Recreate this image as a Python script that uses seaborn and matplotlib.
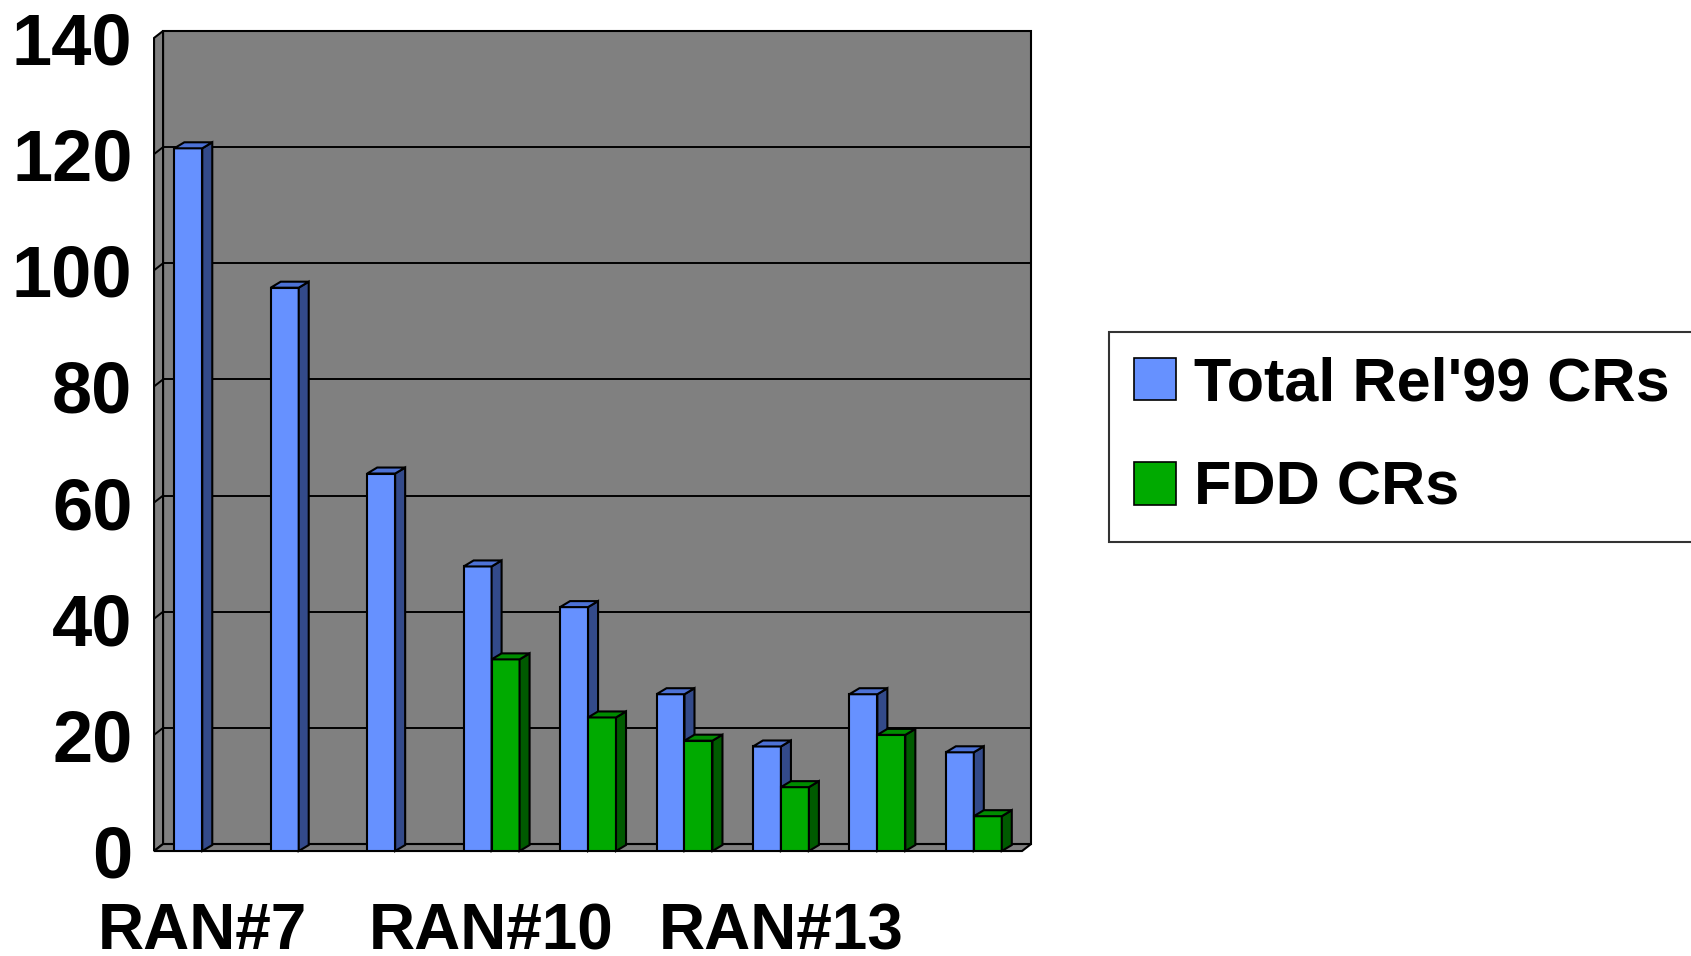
"""
Rel'99 change requests per RAN plenary meeting, drawn as a pseudo-3D
clustered column chart (Excel style) with seaborn + matplotlib patches.
"""
import matplotlib
matplotlib.use("Agg")
import matplotlib.pyplot as plt
import matplotlib.transforms as mtransforms
from matplotlib.lines import Line2D
from matplotlib.patches import Polygon, Rectangle
import numpy as np
import pandas as pd
import seaborn as sns

# Data
meetings = ["RAN#7", "RAN#8", "RAN#9", "RAN#10", "RAN#11",
            "RAN#12", "RAN#13", "RAN#14", "RAN#15"]
total_crs = [121, 97, 65, 49, 42, 27, 18, 27, 17]
fdd_crs = [np.nan, np.nan, np.nan, 33, 23, 19, 11, 20, 6]
series_names = ["Total Rel'99 CRs", "FDD CRs"]
shown_labels = ["RAN#7", "RAN#10", "RAN#13"]
y_ticks = [0, 20, 40, 60, 80, 100, 120, 140]

# Styling
front_colors = ["#6691FF", "#00AA00"]
side_colors = ["#334A8A", "#005A00"]
top_colors = ["#4D72D6", "#008C00"]
wall_color = "#808080"
DPI = 100
WALL_DX, WALL_DY = 9, 7      # depth of the walls, in pixels
BAR_DX, BAR_DY = 10, 6       # depth of each column, in pixels

sns.set_style("white")
plt.rcParams["font.family"] = ["Liberation Sans", "DejaVu Sans"]
plt.rcParams["font.weight"] = "bold"
plt.rcParams["text.color"] = "black"
plt.rcParams["xtick.color"] = "black"
plt.rcParams["ytick.color"] = "black"
plt.rcParams["xtick.labelcolor"] = "black"
plt.rcParams["ytick.labelcolor"] = "black"

df = pd.DataFrame({
    "meeting": meetings * 2,
    "series": [series_names[0]] * len(meetings) + [series_names[1]] * len(meetings),
    "crs": total_crs + fdd_crs,
}).dropna()

fig = plt.figure(figsize=(16.91, 9.56), dpi=DPI)
ax = fig.add_axes([0.0911, 0.1098, 0.5133, 0.8505])
ax.set_facecolor("none")

sns.barplot(data=df, x="meeting", y="crs", hue="series", order=meetings,
            hue_order=series_names, palette=front_colors, width=0.58,
            saturation=1, edgecolor="black", linewidth=1.5, legend=False, ax=ax)

# keep the seaborn bars before any extra patches get added
bars = sorted([p for p in ax.patches if p.get_height() > 0], key=lambda p: p.get_x())

ax.set_xlim(-0.5, len(meetings) - 0.5)
ax.set_ylim(0, 140)
ax.set_autoscale_on(False)
for s in ax.spines.values():
    s.set_visible(False)
ax.set_xlabel("")
ax.set_ylabel("")

# y axis
ax.set_yticks(y_ticks)
ax.set_yticklabels([str(v) for v in y_ticks], fontsize=52, fontweight="bold", color="black")
ax.tick_params(axis="y", direction="out", length=13.5, width=1.4, pad=2, color="black")

# x axis: ticks at category boundaries, labels only on some meetings
ax.set_xticks(range(len(meetings)))
ax.set_xticklabels([m if m in shown_labels else "" for m in meetings],
                   fontsize=46, fontweight="bold", color="black")
ax.set_xticks(np.arange(-0.5, len(meetings), 1), minor=True)
ax.tick_params(axis="x", which="major", length=0, pad=37)
ax.tick_params(axis="x", which="minor", direction="out", length=10, width=1.4, color="black")

# --- pseudo 3D walls, drawn in pixel space from the axes transforms ---
ident = mtransforms.IdentityTransform()


def px(x, y, trans):
    return tuple(trans.transform((x, y)))


def shift(p, dx, dy):
    return (p[0] + dx, p[1] + dy)


a00 = px(0, 0, ax.transAxes)
a10 = px(1, 0, ax.transAxes)
a01 = px(0, 1, ax.transAxes)
a11 = px(1, 1, ax.transAxes)

back_wall = Polygon([shift(a00, WALL_DX, WALL_DY), shift(a10, WALL_DX, WALL_DY),
                     shift(a11, WALL_DX, WALL_DY), shift(a01, WALL_DX, WALL_DY)],
                    closed=True, transform=ident, facecolor=wall_color,
                    edgecolor="black", linewidth=1.5, zorder=0.5, clip_on=False)
side_wall = Polygon([a00, a01, shift(a01, WALL_DX, WALL_DY), shift(a00, WALL_DX, WALL_DY)],
                    closed=True, transform=ident, facecolor=wall_color,
                    edgecolor="black", linewidth=1.5, zorder=0.6, clip_on=False)
floor = Polygon([a00, a10, shift(a10, WALL_DX, WALL_DY), shift(a00, WALL_DX, WALL_DY)],
                closed=True, transform=ident, facecolor=wall_color,
                edgecolor="black", linewidth=1.5, zorder=0.6, clip_on=False)
for patch in (back_wall, side_wall, floor):
    ax.add_artist(patch)

# gridlines on the back wall plus the small diagonals on the side wall
for v in y_ticks[1:-1]:
    left = px(-0.5, v, ax.transData)
    right = px(len(meetings) - 0.5, v, ax.transData)
    b_left = shift(left, WALL_DX, WALL_DY)
    b_right = shift(right, WALL_DX, WALL_DY)
    ax.add_artist(Line2D([b_left[0], b_right[0]], [b_left[1], b_right[1]],
                         transform=ident, color="black", lw=1.4, zorder=1, clip_on=False))
    ax.add_artist(Line2D([left[0], b_left[0]], [left[1], b_left[1]],
                         transform=ident, color="black", lw=1.4, zorder=1, clip_on=False))

# --- side and top faces of every column ---
for i, bar in enumerate(bars):
    centre = bar.get_x() + bar.get_width() / 2
    k = 0 if centre - round(centre) < 0 else 1
    z = 3 + i * 0.01
    bar.set_zorder(z)
    bar.set_facecolor(front_colors[k])
    x0, y0 = px(bar.get_x(), 0, ax.transData)
    x1, y1 = px(bar.get_x() + bar.get_width(), bar.get_height(), ax.transData)
    side = Polygon([(x1, y0), (x1, y1), (x1 + BAR_DX, y1 + BAR_DY), (x1 + BAR_DX, y0 + BAR_DY)],
                   closed=True, transform=ident, facecolor=side_colors[k],
                   edgecolor="black", linewidth=1.5, zorder=z + 0.001, clip_on=False)
    top = Polygon([(x0, y1), (x1, y1), (x1 + BAR_DX, y1 + BAR_DY), (x0 + BAR_DX, y1 + BAR_DY)],
                  closed=True, transform=ident, facecolor=top_colors[k],
                  edgecolor="black", linewidth=1.5, zorder=z + 0.002, clip_on=False)
    ax.add_artist(side)
    ax.add_artist(top)

# legend
handles = [Rectangle((0, 0), 1, 1, facecolor=c, edgecolor="black", linewidth=1.2)
           for c in front_colors]
leg = ax.legend(handles, series_names, loc="upper left",
                bbox_to_anchor=(0.656, 0.653), bbox_transform=fig.transFigure,
                fontsize=44, frameon=True, fancybox=False, shadow=False,
                handlelength=0.69, handleheight=0.69, handletextpad=0.3,
                labelspacing=0.78, borderpad=0.4, borderaxespad=0)
leg.get_frame().set_edgecolor("black")
leg.get_frame().set_linewidth(1.5)
for t in leg.get_texts():
    t.set_fontweight("bold")
    t.set_color("black")

fig.savefig("out.png", dpi=DPI, facecolor="white")
